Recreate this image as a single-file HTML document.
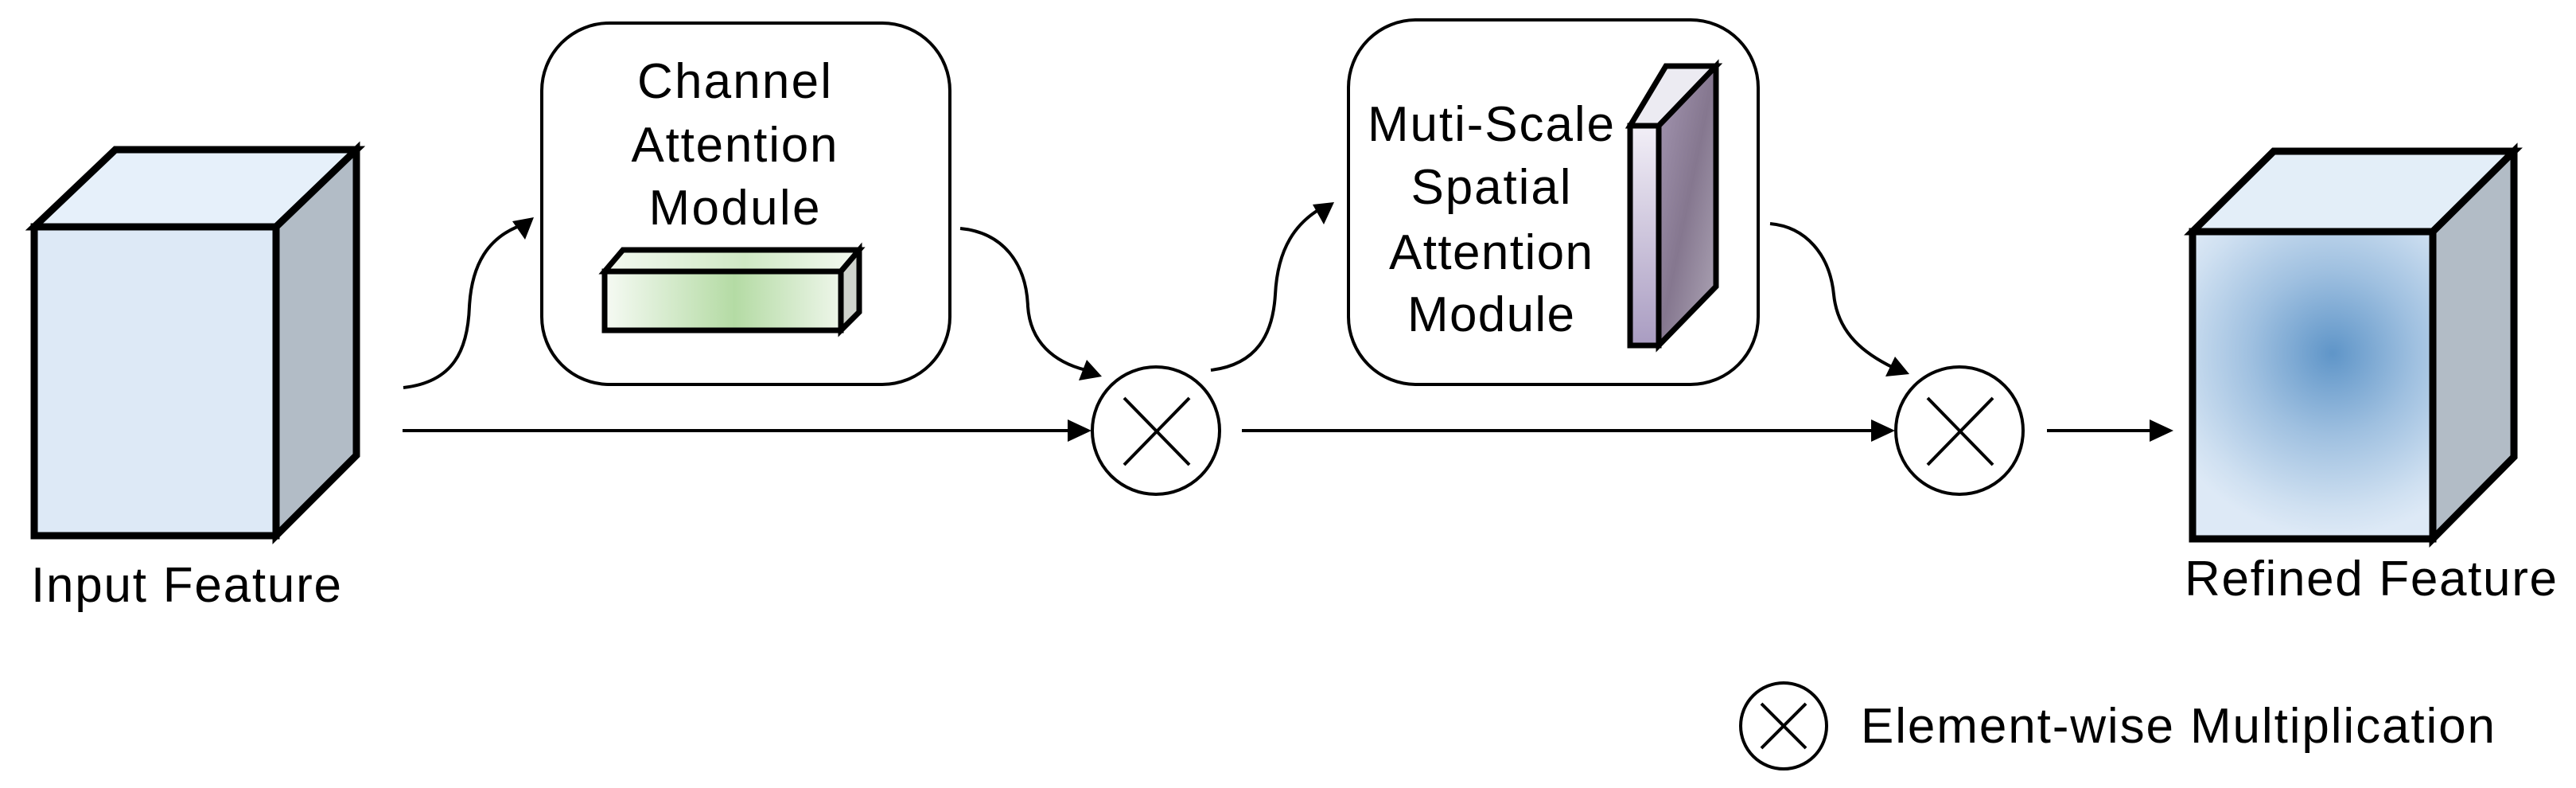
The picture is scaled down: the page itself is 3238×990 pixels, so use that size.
<!DOCTYPE html>
<html><head><meta charset="utf-8"><style>
html,body{margin:0;padding:0;background:#fff;}
svg{display:block;}
text{font-family:"Liberation Sans",Arial,sans-serif;font-size:62px;fill:#000;}
</style></head><body>
<svg width="3238" height="990" viewBox="0 0 3238 990" xmlns="http://www.w3.org/2000/svg">
<defs>
<marker id="ah" markerWidth="10" markerHeight="10" refX="8" refY="5" orient="auto" markerUnits="userSpaceOnUse" viewBox="0 0 10 10">
</marker>
<linearGradient id="gbar" x1="0" y1="0" x2="1" y2="0">
<stop offset="0" stop-color="#f6faf4"/><stop offset="0.55" stop-color="#b4dba4"/><stop offset="1" stop-color="#eef6ea"/>
</linearGradient>
<linearGradient id="gbartop" x1="0" y1="0" x2="1" y2="0">
<stop offset="0" stop-color="#f4f9f1"/><stop offset="0.55" stop-color="#cfe8c4"/><stop offset="1" stop-color="#f4f9f1"/>
</linearGradient>
<linearGradient id="gslabf" x1="0" y1="0" x2="0" y2="1">
<stop offset="0" stop-color="#f2eff7"/><stop offset="1" stop-color="#a99cc1"/>
</linearGradient>
<linearGradient id="gslabs" x1="0" y1="0" x2="1" y2="1">
<stop offset="0" stop-color="#a597b3"/><stop offset="0.5" stop-color="#85778f"/><stop offset="1" stop-color="#b0a8b8"/>
</linearGradient>
<radialGradient id="gref" cx="2932" cy="444" r="230" gradientUnits="userSpaceOnUse">
<stop offset="0" stop-color="#5f95c8"/><stop offset="0.45" stop-color="#9fc0e0"/><stop offset="0.85" stop-color="#cfe0f1"/><stop offset="1" stop-color="#dde9f6"/>
</radialGradient>
</defs>

<!-- Input cube -->
<g stroke="#000" stroke-width="9" stroke-linejoin="miter">
<polygon points="43,285 145,188 448,188 347,285" fill="#e6f0fa"/>
<polygon points="347,285 448,188 448,572 347,673" fill="#b2bcc6"/>
<rect x="43" y="285" width="304" height="388" fill="#dde9f6"/>
</g>

<!-- Channel box -->
<rect x="681" y="29" width="513" height="454" rx="85" fill="#fff" stroke="#000" stroke-width="4"/>
<text x="923" y="123" text-anchor="middle" textLength="244">Channel</text>
<text x="923" y="203" text-anchor="middle" textLength="259">Attention</text>
<text x="923" y="282" text-anchor="middle" textLength="215">Module</text>
<g stroke="#000" stroke-width="7" stroke-linejoin="miter">
<polygon points="760,341 783,314 1080,314 1057,341" fill="url(#gbartop)"/>
<polygon points="1057,341 1080,314 1080,392 1057,415" fill="#cfd3cc"/>
<rect x="760" y="341" width="297" height="74" fill="url(#gbar)"/>
</g>

<!-- Spatial box -->
<rect x="1695" y="25" width="515" height="458" rx="85" fill="#fff" stroke="#000" stroke-width="4"/>
<text x="1874" y="177" text-anchor="middle" textLength="310">Muti-Scale</text>
<text x="1874" y="256" text-anchor="middle" textLength="201">Spatial</text>
<text x="1874" y="338" text-anchor="middle" textLength="256">Attention</text>
<text x="1874" y="416" text-anchor="middle" textLength="210">Module</text>
<g stroke="#000" stroke-width="7" stroke-linejoin="miter">
<polygon points="2049,158 2094,83 2157,83 2085,158" fill="#ecebf2"/>
<polygon points="2085,158 2157,83 2157,360 2085,434" fill="url(#gslabs)"/>
<rect x="2049" y="158" width="36" height="276" fill="url(#gslabf)"/>
</g>

<!-- Refined cube -->
<g stroke="#000" stroke-width="9" stroke-linejoin="miter">
<polygon points="2756,291 2858,190 3160,190 3058,291" fill="#e3eef8"/>
<polygon points="3058,291 3160,190 3160,574 3058,677" fill="#b2bcc6"/>
<rect x="2756" y="291" width="302" height="386" fill="url(#gref)"/>
</g>

<!-- circles -->
<g fill="#fff" stroke="#000" stroke-width="4">
<circle cx="1453" cy="541" r="80"/>
<circle cx="2463" cy="541" r="80"/>
<circle cx="2242" cy="912" r="54"/>
</g>
<g stroke="#000" stroke-width="4">
<line x1="1413" y1="500" x2="1495" y2="584"/><line x1="1495" y1="500" x2="1413" y2="584"/>
<line x1="2423" y1="500" x2="2505" y2="584"/><line x1="2505" y1="500" x2="2423" y2="584"/>
<line x1="2214" y1="884" x2="2270" y2="940"/><line x1="2270" y1="884" x2="2214" y2="940"/>
</g>

<!-- connectors -->
<g stroke="#000" stroke-width="4" fill="none">
<line x1="506" y1="541" x2="1346" y2="541"/>
<line x1="1561" y1="541" x2="2356" y2="541"/>
<line x1="2573" y1="541" x2="2706" y2="541"/>
<path d="M507,487 C570,480 588,440 590,385 C593,330 615,300 650,285"/>
<path d="M1207,287 C1260,292 1290,330 1292,385 C1295,430 1325,455 1365,465"/>
<path d="M1522,465 C1580,458 1600,420 1603,370 C1606,310 1630,280 1660,262"/>
<path d="M2225,281 C2270,285 2300,320 2305,370 C2310,420 2345,445 2380,462"/>
</g>
<g fill="#000">
<polygon points="1372,541 1342,527 1342,555"/>
<polygon points="2382,541 2352,527 2352,555"/>
<polygon points="2732,541 2702,527 2702,555"/>
<polygon points="671,273 644,278 660,301"/>
<polygon points="1385,473 1366,452 1356,478"/>
<polygon points="1677,254 1650,257 1664,282"/>
<polygon points="2400,470 2382,448 2370,473"/>
</g>

<!-- labels -->
<text x="39" y="756" textLength="390">Input Feature</text>
<text x="2746" y="748" textLength="468">Refined Feature</text>
<text x="2339" y="933" textLength="797">Element-wise Multiplication</text>
</svg>
</body></html>
